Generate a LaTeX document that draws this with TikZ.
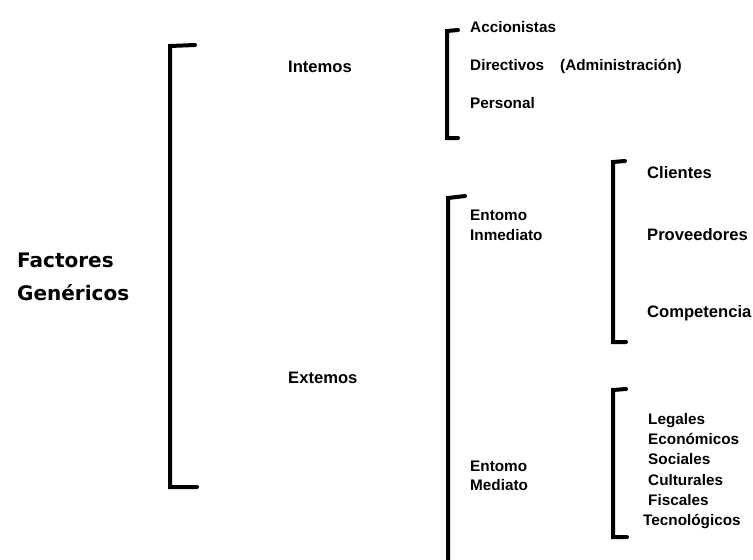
\documentclass[tikz,border=0pt]{standalone}
\usepackage{fontspec}
\setmainfont{Liberation Sans}
\newfontfamily\titlefont{DejaVu Sans}
\usetikzlibrary{positioning}

\begin{document}
\begin{tikzpicture}[x=1pt,y=-1pt,
  bracket/.style={line width=4pt, line join=miter, line cap=round},
  item node/.style={anchor=base west, inner sep=0pt, font=\fontsize{15.3}{18}\selectfont\bfseries},
  large item/.style={item node, font=\fontsize{16.6}{20}\selectfont\bfseries},
  title node/.style={anchor=base west, inner sep=0pt, font=\titlefont\fontsize{20}{31}\selectfont\bfseries}]

  \useasboundingbox (0,0) rectangle (753,560);

  % title
  \node[title node] (factores) at (17,267) {Factores};
  \node[title node] (genericos) at (17,300) {Genéricos};

  % first level
  \draw[bracket] (195,45) -- (170,46) -- (170,487) -- (197,487);
  \node[large item] (internos) at (288,72) {Intemos};
  \node[large item] (externos) at (288,383) {Extemos};

  % internos
  \draw[bracket] (458,30) -- (447,31) -- (447,138) -- (458,138);
  \node[item node] (accionistas) at (470,32) {Accionistas};
  \node[item node] (directivos) at (470,70) {Directivos};
  \node[item node] (admin) at (560,70) {(Administración)};
  \node[item node] (personal) at (470,108) {Personal};

  % externos
  \draw[bracket] (465,196) -- (448,198) -- (448,562);
  \node[item node] (inmediato) at (470,220) {Entomo};
  \node[item node] (inmediato2) at (470,240) {Inmediato};
  \node[item node] (mediato) at (470,471) {Entomo};
  \node[item node] (mediato2) at (470,490) {Mediato};

  % entorno inmediato
  \draw[bracket] (625,161) -- (613,162) -- (613,342) -- (626,342);
  \node[large item] (clientes) at (647,178) {Clientes};
  \node[large item] (proveedores) at (647,240) {Proveedores};
  \node[large item] (competencia) at (647,317) {Competencia};

  % entorno mediato
  \draw[bracket] (626,389) -- (613,390) -- (613,537) -- (627,537);
  \node[item node] (legales) at (648,424) {Legales};
  \node[item node] (economicos) at (648,444) {Económicos};
  \node[item node] (sociales) at (648,464) {Sociales};
  \node[item node] (culturales) at (648,485) {Culturales};
  \node[item node] (fiscales) at (648,505) {Fiscales};
  \node[item node] (tecnologicos) at (643,525) {Tecnológicos};
\end{tikzpicture}
\end{document}
